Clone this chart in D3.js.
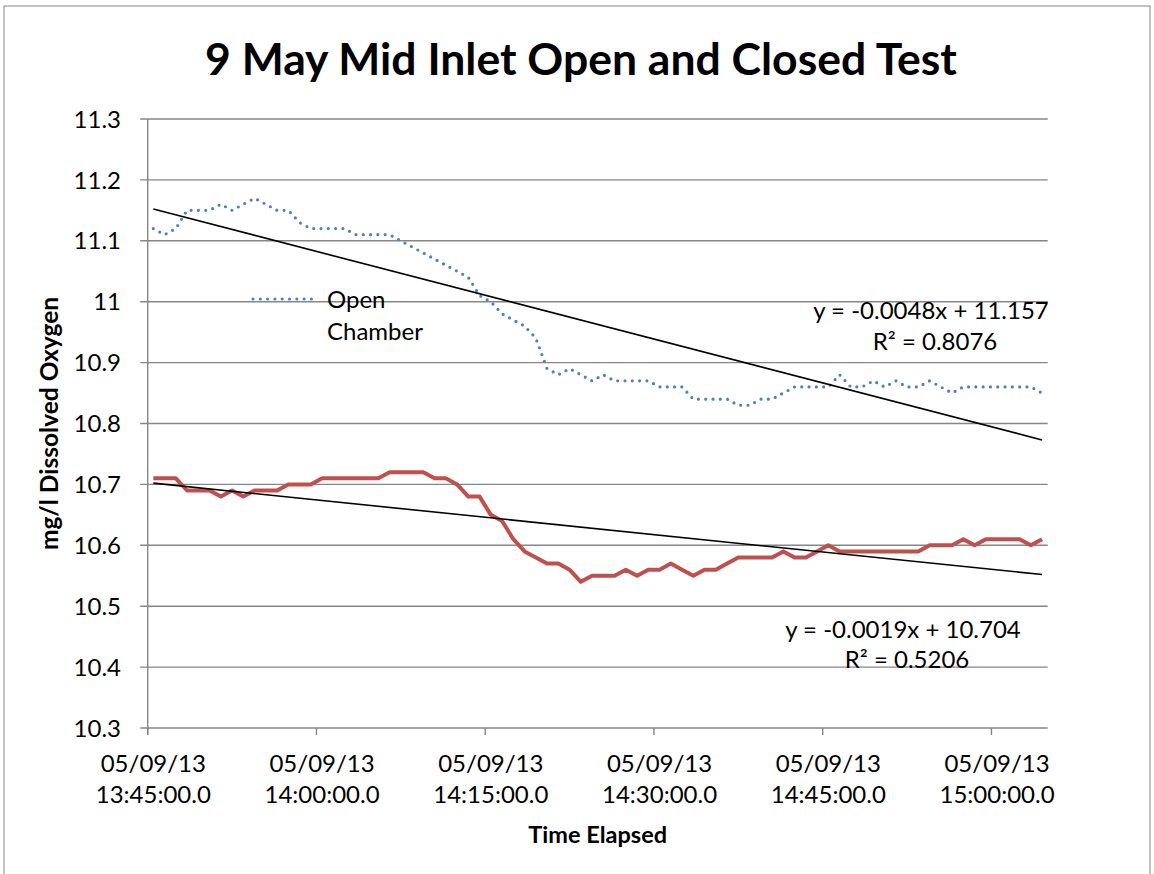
<!DOCTYPE html>
<html lang="en">
<head>
    <meta charset="UTF-8">
    <title>9 May Mid Inlet Open and Closed Test</title>
    <script src="https://d3js.org/d3.v7.min.js"></script>
    <style>
        body { margin: 0; background: #fff; }
        svg { font-family: Lato, "Open Sans", sans-serif; }
    </style>
</head>
<body>
<svg id="chart" width="1154" height="874"></svg>

<script>
    // one reading per minute, 13:45 -> 15:04
    const openChamber = [
        11.12, 11.11, 11.12, 11.15, 11.15, 11.15, 11.16, 11.15, 11.16, 11.17,
        11.16, 11.15, 11.15, 11.13, 11.12, 11.12, 11.12, 11.12, 11.11, 11.11,
        11.11, 11.11, 11.10, 11.09, 11.08, 11.07, 11.06, 11.05, 11.04, 11.01,
        11.00, 10.98, 10.97, 10.96, 10.94, 10.89, 10.88, 10.89, 10.88, 10.87,
        10.88, 10.87, 10.87, 10.87, 10.87, 10.86, 10.86, 10.86, 10.84, 10.84,
        10.84, 10.84, 10.83, 10.83, 10.84, 10.84, 10.85, 10.86, 10.86, 10.86,
        10.86, 10.88, 10.86, 10.86, 10.87, 10.86, 10.87, 10.86, 10.86, 10.87,
        10.86, 10.85, 10.86, 10.86, 10.86, 10.86, 10.86, 10.86, 10.86, 10.85
    ];
    const closedChamber = [
        10.71, 10.71, 10.71, 10.69, 10.69, 10.69, 10.68, 10.69, 10.68, 10.69,
        10.69, 10.69, 10.70, 10.70, 10.70, 10.71, 10.71, 10.71, 10.71, 10.71,
        10.71, 10.72, 10.72, 10.72, 10.72, 10.71, 10.71, 10.70, 10.68, 10.68,
        10.65, 10.64, 10.61, 10.59, 10.58, 10.57, 10.57, 10.56, 10.54, 10.55,
        10.55, 10.55, 10.56, 10.55, 10.56, 10.56, 10.57, 10.56, 10.55, 10.56,
        10.56, 10.57, 10.58, 10.58, 10.58, 10.58, 10.59, 10.58, 10.58, 10.59,
        10.60, 10.59, 10.59, 10.59, 10.59, 10.59, 10.59, 10.59, 10.59, 10.60,
        10.60, 10.60, 10.61, 10.60, 10.61, 10.61, 10.61, 10.61, 10.60, 10.61
    ];

    // Excel linear trendlines (x = point number, starting at 1)
    const openTrend = { slope: -0.0048, intercept: 11.157, eq: "y = -0.0048x + 11.157", r2: "R² = 0.8076" };
    const closedTrend = { slope: -0.0019, intercept: 10.704, eq: "y = -0.0019x + 10.704", r2: "R² = 0.5206" };

    const yTicks = [10.3, 10.4, 10.5, 10.6, 10.7, 10.8, 10.9, 11, 11.1, 11.2, 11.3];
    const xTickIndex = [0, 15, 30, 45, 60, 75];
    const xTickDate = "05/09/13";
    const xTickTimes = ["13:45:00.0", "14:00:00.0", "14:15:00.0", "14:30:00.0", "14:45:00.0", "15:00:00.0"];

    const gridColor = "#868686";
    const blue = "#4f81bd";
    const red = "#c0504d";
    const fontSize = 24;

    const plotLeft = 147.7, plotRight = 1047.7, plotTop = 119, plotBottom = 728;

    const svg = d3.select("#chart");

    // chart area border
    svg.append("rect")
        .attr("x", 4).attr("y", 6)
        .attr("width", 1146).attr("height", 900)
        .attr("fill", "none")
        .attr("stroke", gridColor)
        .attr("stroke-width", 1);

    const x = d3.scaleBand()
        .domain(d3.range(openChamber.length))
        .range([plotLeft, plotRight]);
    const cx = i => x(i) + x.bandwidth() / 2;

    const y = d3.scaleLinear()
        .domain([10.3, 11.3])
        .range([plotBottom, plotTop]);

    // horizontal gridlines
    svg.append("g")
        .selectAll("line")
        .data(yTicks)
        .enter().append("line")
        .attr("x1", plotLeft - 7.5)
        .attr("x2", plotRight)
        .attr("y1", d => y(d))
        .attr("y2", d => y(d))
        .attr("stroke", gridColor)
        .attr("stroke-width", 1.4);

    // y axis line
    svg.append("line")
        .attr("x1", plotLeft).attr("x2", plotLeft)
        .attr("y1", plotTop).attr("y2", plotBottom + 7)
        .attr("stroke", gridColor)
        .attr("stroke-width", 1.4);

    // x tick marks at category boundaries
    svg.append("g")
        .selectAll("line")
        .data(xTickIndex)
        .enter().append("line")
        .attr("x1", d => x(d)).attr("x2", d => x(d))
        .attr("y1", plotBottom).attr("y2", plotBottom + 7)
        .attr("stroke", gridColor)
        .attr("stroke-width", 1.4);

    const fmt = d3.format(".1~f");
    svg.append("g")
        .selectAll("text")
        .data(yTicks)
        .enter().append("text")
        .attr("x", 121)
        .attr("y", d => y(d))
        .attr("dy", "0.36em")
        .attr("text-anchor", "end")
        .attr("font-size", fontSize)
        .attr("fill", "#000")
        .text(d => fmt(d));

    const xl = svg.append("g")
        .selectAll("text")
        .data(xTickIndex)
        .enter().append("text")
        .attr("text-anchor", "middle")
        .attr("font-size", fontSize)
        .attr("fill", "#000");
    xl.append("tspan")
        .attr("x", d => cx(d))
        .attr("y", 772)
        .text(xTickDate);
    xl.append("tspan")
        .attr("x", d => cx(d))
        .attr("y", 803)
        .text((d, i) => xTickTimes[i]);

    // series
    const line = d3.line()
        .x((d, i) => cx(i))
        .y(d => y(d));

    svg.append("path")
        .datum(closedChamber)
        .attr("d", line)
        .attr("fill", "none")
        .attr("stroke", red)
        .attr("stroke-width", 4)
        .attr("stroke-linejoin", "round");

    svg.append("path")
        .datum(openChamber)
        .attr("d", line)
        .attr("fill", "none")
        .attr("stroke", blue)
        .attr("stroke-width", 3.2)
        .attr("stroke-linecap", "round")
        .attr("stroke-dasharray", "0 7.3");

    // trendlines
    [openTrend, closedTrend].forEach(t => {
        const n = openChamber.length;
        svg.append("line")
            .attr("x1", cx(0))
            .attr("y1", y(t.intercept + t.slope * 1))
            .attr("x2", cx(n - 1))
            .attr("y2", y(t.intercept + t.slope * n))
            .attr("stroke", "#000")
            .attr("stroke-width", 1.6);
    });

    // trendline labels
    const labels = [
        { t: openTrend, cx: 931, y1: 319, y2: 350 },
        { t: closedTrend, cx: 903, y1: 638, y2: 668 }
    ];
    labels.forEach(l => {
        svg.append("text")
            .attr("x", l.cx).attr("y", l.y1)
            .attr("text-anchor", "middle")
            .attr("font-size", fontSize)
            .text(l.t.eq);
        svg.append("text")
            .attr("x", l.cx + 4).attr("y", l.y2)
            .attr("text-anchor", "middle")
            .attr("font-size", fontSize)
            .text(l.t.r2);
    });

    // legend
    svg.append("line")
        .attr("x1", 253).attr("x2", 313)
        .attr("y1", 299).attr("y2", 299)
        .attr("stroke", blue)
        .attr("stroke-width", 3.2)
        .attr("stroke-linecap", "round")
        .attr("stroke-dasharray", "0 7.3");
    const lg = svg.append("text")
        .attr("font-size", fontSize);
    lg.append("tspan").attr("x", 327).attr("y", 308).text("Open");
    lg.append("tspan").attr("x", 327).attr("y", 340).text("Chamber");

    // titles
    svg.append("text")
        .attr("x", 581).attr("y", 75)
        .attr("text-anchor", "middle")
        .attr("font-size", 44.5)
        .attr("font-weight", "bold")
        .text("9 May Mid Inlet Open and Closed Test");

    svg.append("text")
        .attr("x", (plotLeft + plotRight) / 2).attr("y", 843)
        .attr("text-anchor", "middle")
        .attr("font-size", 23.5)
        .attr("font-weight", "bold")
        .text("Time Elapsed");

    svg.append("text")
        .attr("transform", "translate(58," + (plotTop + plotBottom) / 2 + ") rotate(-90)")
        .attr("text-anchor", "middle")
        .attr("font-size", 24.5)
        .attr("font-weight", "bold")
        .text("mg/l Dissolved Oxygen");
</script>
</body>
</html>
